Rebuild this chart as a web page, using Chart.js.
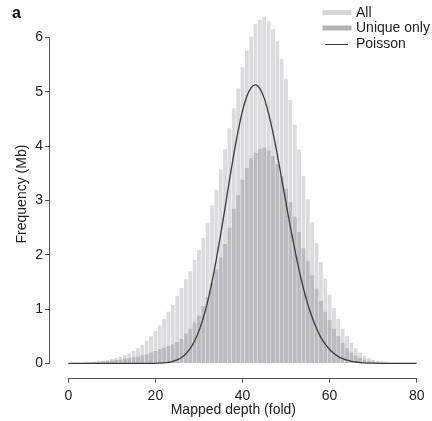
<!DOCTYPE html>
<html><head><meta charset="utf-8">
<script src="https://cdn.jsdelivr.net/npm/chart.js@4/dist/chart.umd.min.js"></script>
<style>html,body{margin:0;padding:0;background:#fff}</style>
</head><body>
<canvas id="c" width="432" height="421"></canvas>
<script>
const depths = [0,1,2,3,4,5,6,7,8,9,10,11,12,13,14,15,16,17,18,19,20,21,22,23,24,25,26,27,28,29,30,31,32,33,34,35,36,37,38,39,40,41,42,43,44,45,46,47,48,49,50,51,52,53,54,55,56,57,58,59,60,61,62,63,64,65,66,67,68,69,70,71,72,73,74,75,76,77,78,79,80];
const allReads = [0,0.01,0.01,0.015,0.02,0.025,0.03,0.04,0.05,0.065,0.08,0.1,0.12,0.15,0.19,0.23,0.28,0.34,0.42,0.5,0.6,0.7,0.82,0.95,1.08,1.24,1.39,1.55,1.7,1.91,2.09,2.31,2.58,2.91,3.2,3.57,3.94,4.33,4.7,5.06,5.45,5.76,6.02,6.25,6.33,6.39,6.3,6.15,5.93,5.61,5.24,4.85,4.39,3.94,3.45,3.02,2.6,2.22,1.87,1.56,1.27,1.02,0.82,0.64,0.5,0.38,0.28,0.2,0.14,0.1,0.07,0.05,0.035,0.025,0.018,0.012,0.008,0.005,0.003,0.002,0.001];
const uniqueOnly = [0,0.005,0.008,0.01,0.015,0.02,0.025,0.03,0.04,0.045,0.055,0.065,0.075,0.085,0.1,0.115,0.13,0.15,0.17,0.2,0.23,0.26,0.29,0.32,0.35,0.39,0.45,0.55,0.64,0.76,0.88,1.06,1.23,1.48,1.73,1.95,2.2,2.5,2.85,3.1,3.38,3.6,3.78,3.88,3.95,3.97,3.92,3.82,3.67,3.45,3.22,2.97,2.7,2.42,2.12,1.88,1.62,1.38,1.15,0.95,0.8,0.64,0.5,0.38,0.28,0.2,0.14,0.1,0.07,0.05,0.035,0.025,0.018,0.012,0.008,0.005,0.003,0.002,0.001,0.001,0];
const poisson = [0,0,0,0,0,0,0,0,0,0,0,0,0,0,0,0,0,0,0,0.001,0.003,0.006,0.011,0.021,0.038,0.067,0.111,0.179,0.277,0.415,0.6,0.84,1.14,1.5,1.92,2.38,2.87,3.37,3.85,4.28,4.65,4.92,5.08,5.13,5.06,4.88,4.6,4.25,3.84,3.4,2.95,2.51,2.1,1.72,1.38,1.09,0.845,0.643,0.481,0.354,0.256,0.182,0.127,0.088,0.06,0.04,0.027,0.017,0.011,0.007,0.0045,0.003,0.002,0.001,0,0,0,0,0,0,0];
const xTicks = [0,20,40,60,80];
const yTicks = [0,1,2,3,4,5,6];
const seriesLabels = ['All','Unique only','Poisson'];
const panelLabel = 'a';
const xTitle = 'Mapped depth (fold)';
const yTitle = 'Frequency (Mb)';

const FONT = "'Liberation Sans', Arial, Helvetica, sans-serif";
const TEXT = '#222';
const AXIS = '#555';

const axisLines = {
  id: 'axisLines',
  afterDraw(chart) {
    const {ctx, chartArea, scales: {x, y}} = chart;
    ctx.save();
    ctx.strokeStyle = AXIS; ctx.lineWidth = 1;
    ctx.beginPath();
    const xl = Math.round(chartArea.left) - 0.5;
    ctx.moveTo(xl, y.getPixelForValue(yTicks[0]) + 0.5);
    ctx.lineTo(xl, y.getPixelForValue(yTicks[yTicks.length - 1]) - 0.5);
    const yb = Math.round(chartArea.bottom) + 0.5;
    ctx.moveTo(x.getPixelForValue(xTicks[0]) - 0.5, yb);
    ctx.lineTo(x.getPixelForValue(xTicks[xTicks.length - 1]) + 0.5, yb);
    ctx.stroke();
    ctx.restore();
  }
};

const legendAndLabel = {
  id: 'legendAndLabel',
  afterDraw(chart) {
    const ctx = chart.ctx;
    const ds = chart.data.datasets;
    ctx.save();
    ctx.font = '14px ' + FONT;
    ctx.textBaseline = 'middle';
    ctx.textAlign = 'left';
    const rows = [12.5, 28, 43.5];
    ds.forEach((d, i) => {
      const yy = rows[i];
      if (d.type === 'line') {
        ctx.strokeStyle = d.borderColor; ctx.lineWidth = 1;
        ctx.beginPath(); ctx.moveTo(325, Math.round(yy) + 0.5); ctx.lineTo(348, Math.round(yy) + 0.5); ctx.stroke();
      } else {
        ctx.fillStyle = d.legendColor;
        ctx.fillRect(322.5, yy - 2.5, 29, 5);
      }
      ctx.fillStyle = TEXT;
      ctx.fillText(d.label, 356, yy + 0.5);
    });
    ctx.font = 'bold 16px ' + FONT;
    ctx.fillStyle = '#111';
    ctx.fillText(panelLabel, 12, 14);
    ctx.restore();
  }
};

new Chart(document.getElementById('c'), {
  type: 'bar',
  data: {
    datasets: [
      { label: seriesLabels[0], data: depths.map((d, i) => ({x: d, y: allReads[i]})),
        backgroundColor: '#dcdcde', legendColor: '#d6d6d8', order: 2, grouped: false,
        barPercentage: 0.88, categoryPercentage: 1 },
      { label: seriesLabels[1], data: depths.map((d, i) => ({x: d, y: uniqueOnly[i]})),
        backgroundColor: '#bcbcc0', legendColor: '#b4b4b8', order: 1, grouped: false,
        barPercentage: 0.88, categoryPercentage: 1 },
      { type: 'line', label: seriesLabels[2], data: depths.map((d, i) => ({x: d, y: poisson[i]})),
        borderColor: '#3a3a3a', borderWidth: 1.3, pointRadius: 0, fill: false,
        cubicInterpolationMode: 'monotone', order: 0 }
    ]
  },
  options: {
    responsive: false, animation: false, devicePixelRatio: 1,
    layout: { padding: { left: 0, right: 15.3, top: 5.8, bottom: 0 } },
    plugins: { legend: { display: false }, tooltip: { enabled: false }, title: { display: false } },
    scales: {
      x: {
        type: 'linear', min: -4.2, max: 80, offset: false,
        afterBuildTicks: s => { s.ticks = xTicks.map(v => ({value: v})); },
        afterFit: s => { s.height = 43.3; },
        grid: { offset: false, drawOnChartArea: false, drawTicks: true, tickLength: 5, color: AXIS, lineWidth: 1 },
        border: { display: false },
        ticks: { padding: 5, color: TEXT, font: { family: FONT, size: 14 }, minRotation: 0, maxRotation: 0, autoSkip: false },
        title: { display: true, text: xTitle, color: TEXT, font: { family: FONT, size: 14 }, padding: { top: 0, bottom: 2 } }
      },
      y: {
        type: 'linear', min: -0.262, max: 6.5, offset: false,
        afterBuildTicks: s => { s.ticks = yTicks.map(v => ({value: v})); },
        afterFit: s => { s.width = 50; },
        grid: { offset: false, drawOnChartArea: false, drawTicks: true, tickLength: 5, color: AXIS, lineWidth: 1 },
        border: { display: false },
        ticks: { padding: 2, color: TEXT, font: { family: FONT, size: 14 }, minRotation: 0, maxRotation: 0, autoSkip: false },
        title: { display: true, text: yTitle, color: TEXT, font: { family: FONT, size: 14 }, padding: { top: 14, bottom: 0 } }
      }
    }
  },
  plugins: [axisLines, legendAndLabel]
});
</script>
</body></html>
